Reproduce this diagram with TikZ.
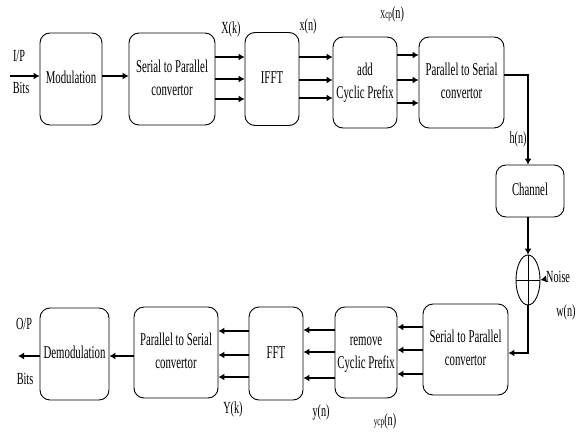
\documentclass[tikz,border=0pt]{standalone}
\usepackage{fontspec}
\setmainfont{Liberation Serif}
\usetikzlibrary{arrows.meta,shapes.geometric}
\newcommand{\nar}[1]{\scalebox{0.6}[1]{\begin{tabular}{@{}c@{}}#1\end{tabular}}}

\begin{document}
\begin{tikzpicture}[x=1pt, y=-1pt, >={Latex[length=6pt,width=7pt]},
  blk/.style={draw, rounded corners=10pt, line width=0.9pt, inner sep=0pt,
    font=\fontsize{18}{23}\selectfont},
  lbl/.style={font=\fontsize{17}{19}\selectfont, inner sep=0pt}]
  \useasboundingbox (0,0) rectangle (581,434);

  % transmitter row
  \node[blk, minimum width=62pt, minimum height=92pt] (mod)  at (71,79)    {\nar{Modulation}};
  \node[blk, minimum width=86pt, minimum height=92pt] (s2p)  at (172,79)   {\nar{Serial to Parallel\\convertor}};
  \node[blk, minimum width=54pt, minimum height=93pt] (ifft) at (272,79)   {\nar{IFFT}};
  \node[blk, minimum width=64pt, minimum height=91pt] (acp)  at (365,82.5) {\nar{add\\Cyclic Prefix}};
  \node[blk, minimum width=85pt, minimum height=91pt] (p2s)  at (461.5,82.5) {\nar{Parallel to Serial\\convertor}};

  % channel and noise
  \node[blk, minimum width=68pt, minimum height=52pt] (chan) at (530,191) {\nar{Channel}};
  \node[draw, ellipse, minimum width=24pt, minimum height=50pt, inner sep=0pt,
    line width=0.9pt] (add) at (528,280) {};
  \draw[line width=0.9pt] (add.north) -- (add.south) (add.west) -- (add.east);

  % receiver row
  \node[blk, minimum width=85pt, minimum height=91pt] (s2pB)  at (465.5,349.5) {\nar{Serial to Parallel\\convertor}};
  \node[blk, minimum width=62pt, minimum height=91pt] (rcp)   at (366,352.5)   {\nar{remove\\Cyclic Prefix}};
  \node[blk, minimum width=54pt, minimum height=93pt] (fft)   at (276,353.5)   {\nar{FFT}};
  \node[blk, minimum width=84pt, minimum height=91pt] (p2sB)  at (176,352.5)   {\nar{Parallel to Serial\\convertor}};
  \node[blk, minimum width=69pt, minimum height=92pt] (demod) at (74.5,354)    {\nar{Demodulation}};

  % labels
  \node[lbl] (ip)    at (19,58)   {\nar{I/P}};
  \node[lbl] (ipb)   at (21,90)   {\nar{Bits}};
  \node[lbl] (op)    at (24,326)  {\nar{O/P}};
  \node[lbl] (opb)   at (25,381)  {\nar{Bits}};
  \node[lbl] (Xk)    at (231,30)  {\nar{X(k)}};
  \node[lbl] (xn)    at (308,27)  {\nar{x(n)}};
  \node[lbl] (xcp)   at (392,15)  {\nar{{\fontsize{12}{12}\selectfont Xcp}(n)}};
  \node[lbl] (hn)    at (518,140) {\nar{h(n)}};
  \node[lbl, anchor=west] (noise) at (546,279) {\nar{Noise}};
  \node[lbl] (wn)    at (566,313) {\nar{w(n)}};
  \node[lbl] (Yk)    at (233,410) {\nar{Y(k)}};
  \node[lbl] (yn)    at (321,413) {\nar{y(n)}};
  \node[lbl] (ycp)   at (385,422) {\nar{{\fontsize{12}{12}\selectfont ycp}(n)}};

  \coordinate (in)  at (10,76);
  \coordinate (out) at (18,356);
  \coordinate (dn)  at (528,353);

  \begin{scope}[->, line width=1.1pt]
    \draw (in) -- (mod.west |- in);
    \draw (mod.east |- in) -- (s2p.west |- in);
    \foreach \y in {57,79,99}  \draw (s2p.east |- 0,\y) -- (ifft.west |- 0,\y);
    \foreach \y in {57,80,98}  \draw (ifft.east |- 0,\y) -- (acp.west |- 0,\y);
    \foreach \y in {55,80,103} \draw (acp.east |- 0,\y) -- (p2s.west |- 0,\y);
    \draw (p2s.east |- 0,75) -| (chan.north -| add.north);
    \draw (chan.south -| add.north) -- (add.north);
    \draw (noise.west) -- (add.east);
    \draw (add.south) -- (dn) -- (s2pB.east |- dn);
    \foreach \y in {327,350,374} \draw (s2pB.west |- 0,\y) -- (rcp.east |- 0,\y);
    \foreach \y in {330,352,378} \draw (rcp.west |- 0,\y) -- (fft.east |- 0,\y);
    \foreach \y in {331,355,377} \draw (fft.west |- 0,\y) -- (p2sB.east |- 0,\y);
    \draw (p2sB.west |- out) -- (demod.east |- out);
    \draw (demod.west |- out) -- (out);
  \end{scope}
\end{tikzpicture}
\end{document}
